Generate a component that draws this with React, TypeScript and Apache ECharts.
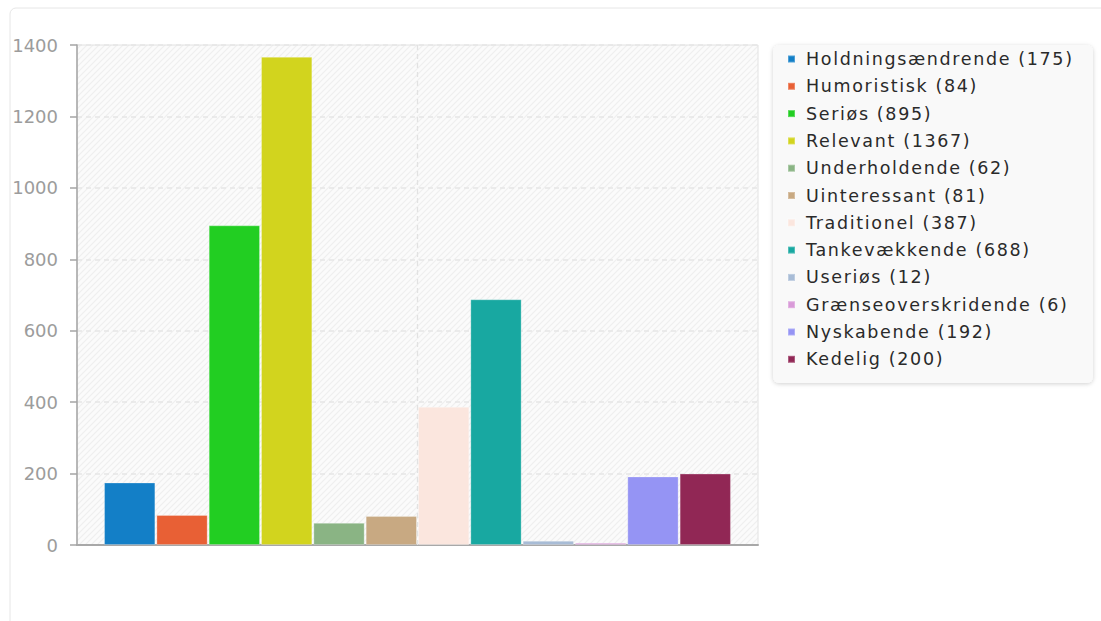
import React, { useEffect, useRef } from "react";
import * as echarts from "echarts";

const categories = [
  "Holdningsændrende",
  "Humoristisk",
  "Seriøs",
  "Relevant",
  "Underholdende",
  "Uinteressant",
  "Traditionel",
  "Tankevækkende",
  "Useriøs",
  "Grænseoverskridende",
  "Nyskabende",
  "Kedelig",
];
const values = [175, 84, 895, 1367, 62, 81, 387, 688, 12, 6, 192, 200];
const colors = [
  "#137fc7",
  "#e86035",
  "#22ce22",
  "#d2d41e",
  "#8ab484",
  "#c8a982",
  "#fbe6de",
  "#18a8a1",
  "#a8bcd6",
  "#d99ad8",
  "#9594f4",
  "#912755",
];
const yTicks = { min: 0, max: 1400, interval: 200 };

const LEGEND_TEXT = "#2a2a2a";

const hatchSvg =
  "data:image/svg+xml;utf8," +
  encodeURIComponent(
    '<svg xmlns="http://www.w3.org/2000/svg" width="6" height="6">' +
      '<rect width="6" height="6" fill="#fbfbfb"/>' +
      '<path d="M-1,1 L1,-1 M0,6 L6,0 M5,7 L7,5" stroke="#efefef" stroke-width="1.2"/>' +
      "</svg>"
  );

export default function App() {
  const ref = useRef<HTMLDivElement>(null);

  useEffect(() => {
    if (!ref.current) return;
    const chart = echarts.init(ref.current, null, { renderer: "svg" });
    const valueMap: Record<string, number> = {};
    categories.forEach((c, i) => (valueMap[c] = values[i]));

    const series: any[] = categories.map((name, i) => ({
      name,
      type: "bar",
      data: [values[i]],
      barWidth: 51.3,
      barGap: "2%",
      itemStyle: {
        color: colors[i],
        borderColor: "rgba(255,255,255,0.25)",
        borderWidth: 1,
      },
    }));
    series.push({
      name: "__center",
      type: "line",
      data: [],
      silent: true,
      markLine: {
        silent: true,
        symbol: "none",
        label: { show: false },
        lineStyle: { type: [5, 4], color: "#e2e2e2", width: 1.3 },
        data: [{ xAxis: 0 }],
      },
    });

    chart.setOption({
      animation: false,
      graphic: [
        {
          type: "rect",
          z: -10,
          shape: { x: 10, y: 8, width: 1100, height: 620, r: 6 },
          style: { fill: "#ffffff", stroke: "#e6e6e6", lineWidth: 1 },
        },
        {
          type: "rect",
          z: -5,
          shape: { x: 773, y: 45, width: 320, height: 338, r: 6 },
          style: {
            fill: "#f9f9f9",
            shadowBlur: 4,
            shadowOffsetY: 1,
            shadowColor: "rgba(0,0,0,0.18)",
          },
        },
      ],
      grid: {
        left: 77,
        top: 45,
        width: 681,
        height: 500,
        show: true,
        backgroundColor: { image: hatchSvg, repeat: "repeat" },
        borderColor: "#e2e2e2",
        borderWidth: 1,
      },
      legend: {
        orient: "vertical",
        left: 787,
        top: 50,
        padding: 0,
        icon: "rect",
        itemWidth: 7,
        itemHeight: 7,
        itemGap: 9.3,
        data: categories,
        formatter: (n: string) => `${n} (${valueMap[n]})`,
        textStyle: {
          fontFamily: "DejaVu Sans",
          fontSize: 17.5,
          lineHeight: 18,
          color: LEGEND_TEXT,
          padding: [0, 0, 0, 6],
        },
      },
      xAxis: {
        type: "category",
        data: [""],
        axisLine: { show: true, lineStyle: { color: "#a8a8a8", width: 2 } },
        axisTick: { show: false },
        axisLabel: { show: false },
        splitLine: { show: false },
      },
      yAxis: {
        type: "value",
        min: yTicks.min,
        max: yTicks.max,
        interval: yTicks.interval,
        axisLine: { show: true, lineStyle: { color: "#a4a4a4", width: 1.5 } },
        axisTick: { show: true, length: 7, lineStyle: { color: "#a4a4a4", width: 1.5 } },
        axisLabel: {
          color: "#9c9c9c",
          fontFamily: "DejaVu Sans",
          fontSize: 18,
          margin: 19,
          formatter: (v: number) => String(v),
        },
        splitLine: {
          show: true,
          lineStyle: { type: [5, 4], color: "#e6e6e6", width: 1.5 },
        },
      },
      series,
    });
    return () => chart.dispose();
  }, []);

  return (
    <>
      <style>{`#chartbox text[fill="${LEGEND_TEXT}"]{letter-spacing:1.65px}`}</style>
      <div
        id="chartbox"
        ref={ref}
        style={{ position: "fixed", left: 0, top: 0, width: 1101, height: 621, background: "#fff" }}
      />
    </>
  );
}
